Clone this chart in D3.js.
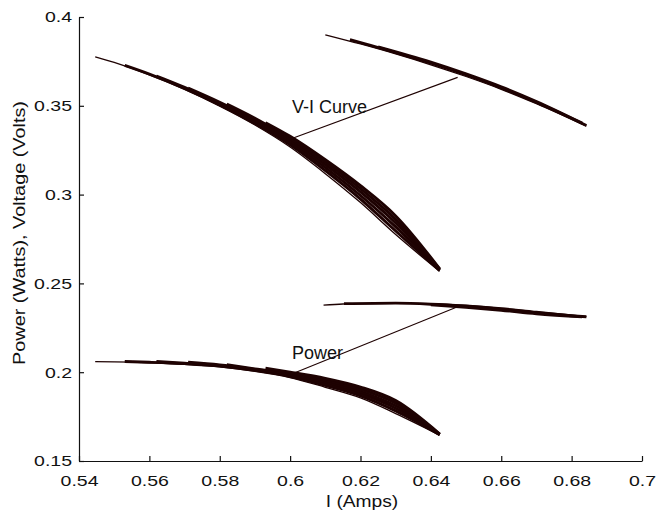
<!DOCTYPE html>
<html>
<head>
<meta charset="utf-8">
<script src="https://cdn.jsdelivr.net/npm/d3@7/dist/d3.min.js"></script>
<style>
  html, body { margin: 0; padding: 0; background: #fff; }
  svg text { font-family: "Liberation Sans", Arial, Helvetica, sans-serif; fill: #111; }
</style>
</head>
<body>
<svg id="chart" width="657" height="515"></svg>
<script>
// Axis ticks
const xTicks = [0.54, 0.56, 0.58, 0.6, 0.62, 0.64, 0.66, 0.68, 0.7];
const xTickLabels = ["0.54", "0.56", "0.58", "0.6", "0.62", "0.64", "0.66", "0.68", "0.7"];
const yTicks = [0.15, 0.2, 0.25, 0.3, 0.35, 0.4];
const yTickLabels = ["0.15", "0.2", "0.25", "0.3", "0.35", "0.4"];

// V-I sweeps, low-current group (current in A, voltage in V)
const viLowI1 = [0.5446, 0.55, 0.56, 0.57, 0.58, 0.59, 0.60, 0.61, 0.62, 0.63, 0.6425];
const viLowV1 = [0.3776, 0.3744, 0.3674, 0.3592, 0.3498, 0.3392, 0.3268, 0.3118, 0.2955, 0.2775, 0.2568];
const viLowI2 = [0.553, 0.56, 0.57, 0.58, 0.59, 0.60, 0.61, 0.62, 0.63, 0.6425];
const viLowV2 = [0.3727, 0.3678, 0.3598, 0.3505, 0.3400, 0.3280, 0.3135, 0.2975, 0.2795, 0.2572];
const viLowI3 = [0.562, 0.57, 0.58, 0.59, 0.60, 0.61, 0.62, 0.63, 0.6425];
const viLowV3 = [0.3668, 0.3604, 0.3512, 0.3410, 0.3292, 0.3152, 0.2995, 0.2818, 0.2575];
const viLowI4 = [0.571, 0.58, 0.59, 0.60, 0.61, 0.62, 0.63, 0.6425];
const viLowV4 = [0.3600, 0.3520, 0.3420, 0.3304, 0.3168, 0.3015, 0.2840, 0.2578];
const viLowI5 = [0.582, 0.59, 0.60, 0.61, 0.62, 0.63, 0.6425];
const viLowV5 = [0.3510, 0.3430, 0.3316, 0.3183, 0.3033, 0.2860, 0.2580];
const viLowI6 = [0.593, 0.60, 0.61, 0.62, 0.63, 0.6425];
const viLowV6 = [0.3405, 0.3328, 0.3196, 0.3050, 0.2880, 0.2582];

// V-I sweeps, high-current group
const viHighI1 = [0.6100, 0.62, 0.63, 0.64, 0.65, 0.66, 0.67, 0.6842];
const viHighV1 = [0.3900, 0.3848, 0.3792, 0.3731, 0.3665, 0.3593, 0.3512, 0.3386];
const viHighI2 = [0.617, 0.63, 0.64, 0.65, 0.66, 0.67, 0.6842];
const viHighV2 = [0.3873, 0.3800, 0.3740, 0.3674, 0.3601, 0.3519, 0.3389];
const viHighI3 = [0.625, 0.64, 0.65, 0.66, 0.67, 0.683];
const viHighV3 = [0.3832, 0.3746, 0.3680, 0.3607, 0.3524, 0.3402];

// Power sweeps, low-current group (current in A, power in W)
const pLowI1 = [0.5446, 0.55, 0.56, 0.57, 0.58, 0.59, 0.60, 0.61, 0.62, 0.63, 0.6425];
const pLowP1 = [0.2059, 0.2058, 0.2053, 0.2044, 0.2030, 0.2005, 0.1970, 0.1915, 0.1855, 0.1767, 0.1646];
const pLowI2 = [0.553, 0.56, 0.57, 0.58, 0.59, 0.60, 0.61, 0.62, 0.63, 0.6425];
const pLowP2 = [0.2060, 0.2056, 0.2048, 0.2034, 0.2010, 0.1976, 0.1926, 0.1867, 0.1782, 0.1648];
const pLowI3 = [0.562, 0.57, 0.58, 0.59, 0.60, 0.61, 0.62, 0.63, 0.6425];
const pLowP3 = [0.2060, 0.2051, 0.2037, 0.2013, 0.1982, 0.1936, 0.1879, 0.1797, 0.1649];
const pLowI4 = [0.571, 0.58, 0.59, 0.60, 0.61, 0.62, 0.63, 0.6425];
const pLowP4 = [0.2056, 0.2041, 0.2016, 0.1988, 0.1946, 0.1891, 0.1811, 0.1650];
const pLowI5 = [0.582, 0.59, 0.60, 0.61, 0.62, 0.63, 0.6425];
const pLowP5 = [0.2042, 0.2019, 0.1994, 0.1956, 0.1903, 0.1826, 0.1651];
const pLowI6 = [0.593, 0.60, 0.61, 0.62, 0.63, 0.6425];
const pLowP6 = [0.2022, 0.2000, 0.1965, 0.1916, 0.1840, 0.1652];

// Power sweeps, high-current group
const pHighI1 = [0.6095, 0.615, 0.62, 0.63, 0.64, 0.65, 0.66, 0.67, 0.6842];
const pHighP1 = [0.2378, 0.2384, 0.2386, 0.2388, 0.2386, 0.2377, 0.2362, 0.2342, 0.2313];
const pHighI2 = [0.6153, 0.63, 0.64, 0.65, 0.66, 0.67, 0.6842];
const pHighP2 = [0.2386, 0.2389, 0.2383, 0.2371, 0.2355, 0.2335, 0.2312];
const pHighI3 = [0.64, 0.65, 0.66, 0.67, 0.683];
const pHighP3 = [0.2380, 0.2366, 0.2349, 0.2329, 0.2312];

// Callouts: label, text anchor (I, value), leader start and end (I, value)
const calloutLabels = ["V-I Curve", "Power"];
const calloutTextI = [0.6005, 0.6005];
const calloutTextY = [0.3462, 0.2074];
const calloutFromI = [0.6009, 0.6010];
const calloutFromY = [0.3319, 0.1994];
const calloutToI = [0.6476, 0.6476];
const calloutToY = [0.3660, 0.2369];

const xLabel = "I (Amps)";
const yLabel = "Power (Watts), Voltage (Volts)";

// first sweep of each group is the long, thin lead-in trace
const traceSets = [
  { lead: [viLowI1, viLowV1], rest: [[viLowI2, viLowV2], [viLowI3, viLowV3], [viLowI4, viLowV4], [viLowI5, viLowV5], [viLowI6, viLowV6]] },
  { lead: [viHighI1, viHighV1], rest: [[viHighI2, viHighV2], [viHighI3, viHighV3]] },
  { lead: [pLowI1, pLowP1], rest: [[pLowI2, pLowP2], [pLowI3, pLowP3], [pLowI4, pLowP4], [pLowI5, pLowP5], [pLowI6, pLowP6]] },
  { lead: [pHighI1, pHighP1], rest: [[pHighI2, pHighP2], [pHighI3, pHighP3]] }
];
const toPts = ([xs, ys]) => xs.map((v, i) => [v, ys[i]]);

const svg = d3.select("#chart");
const margin = { left: 79, right: 15, top: 17, bottom: 54 };
const W = 657, H = 515;

const x = d3.scaleLinear().domain([0.54, 0.7]).range([margin.left, W - margin.right]);
const y = d3.scaleLinear().domain([0.15, 0.4]).range([H - margin.bottom, margin.top]);

const curveColor = "#1e0202";

const line = d3.line()
  .x(d => x(d[0]))
  .y(d => y(d[1]))
  .curve(d3.curveMonotoneX);

const gTraces = svg.append("g").attr("fill", "none").attr("stroke", curveColor).attr("stroke-linejoin", "round");
gTraces.selectAll("path.lead")
  .data(traceSets.map(s => toPts(s.lead)))
  .join("path")
  .attr("class", "lead")
  .attr("d", line)
  .attr("stroke-width", 1.3);
gTraces.selectAll("path.sweep")
  .data(traceSets.flatMap(s => s.rest.map(toPts)))
  .join("path")
  .attr("class", "sweep")
  .attr("d", line)
  .attr("stroke-width", 2.9);

// Callout leader lines and labels
const callouts = calloutLabels.map((t, i) => ({
  t, tx: calloutTextI[i], ty: calloutTextY[i],
  x1: calloutFromI[i], y1: calloutFromY[i], x2: calloutToI[i], y2: calloutToY[i]
}));

svg.append("g").selectAll("line")
  .data(callouts)
  .join("line")
  .attr("x1", d => x(d.x1)).attr("y1", d => y(d.y1))
  .attr("x2", d => x(d.x2)).attr("y2", d => y(d.y2))
  .attr("stroke", curveColor)
  .attr("stroke-width", 1.1);

svg.append("g").selectAll("text")
  .data(callouts)
  .join("text")
  .attr("x", d => x(d.tx))
  .attr("y", d => y(d.ty))
  .attr("font-size", 18)
  .text(d => d.t);

// Axes with inward ticks
const xAxis = d3.axisBottom(x)
  .tickValues(xTicks)
  .tickFormat((d, i) => xTickLabels[i])
  .tickSizeInner(-5)
  .tickSizeOuter(0)
  .tickPadding(14);

const yAxis = d3.axisLeft(y)
  .tickValues(yTicks)
  .tickFormat((d, i) => yTickLabels[i])
  .tickSizeInner(-5)
  .tickSizeOuter(0)
  .tickPadding(7);

const gx = svg.append("g")
  .attr("transform", `translate(0,${H - margin.bottom})`)
  .call(xAxis);
const gy = svg.append("g")
  .attr("transform", `translate(${margin.left},0)`)
  .call(yAxis);

// wide-set lettering: stretch each label along its baseline
function widen(sel, factor) {
  sel.each(function () {
    const len = this.getComputedTextLength();
    d3.select(this).attr("textLength", len * factor).attr("lengthAdjust", "spacingAndGlyphs");
  });
}

[gx, gy].forEach(g => {
  g.select(".domain").attr("stroke", "#111").attr("stroke-width", 1.2);
  g.selectAll(".tick line").attr("stroke", "#111").attr("stroke-width", 1.2);
  g.selectAll(".tick text")
    .attr("font-size", 15)
    .attr("font-family", "Liberation Sans, Arial, sans-serif")
    .attr("fill", "#111")
    .call(widen, 1.3);
});

svg.append("text")
  .attr("x", 362)
  .attr("y", 507)
  .attr("text-anchor", "middle")
  .attr("font-size", 16)
  .text(xLabel)
  .call(widen, 1.2);

svg.append("text")
  .attr("transform", "translate(25,233) rotate(-90)")
  .attr("text-anchor", "middle")
  .attr("font-size", 16)
  .text(yLabel)
  .call(widen, 1.24);
</script>
</body>
</html>
